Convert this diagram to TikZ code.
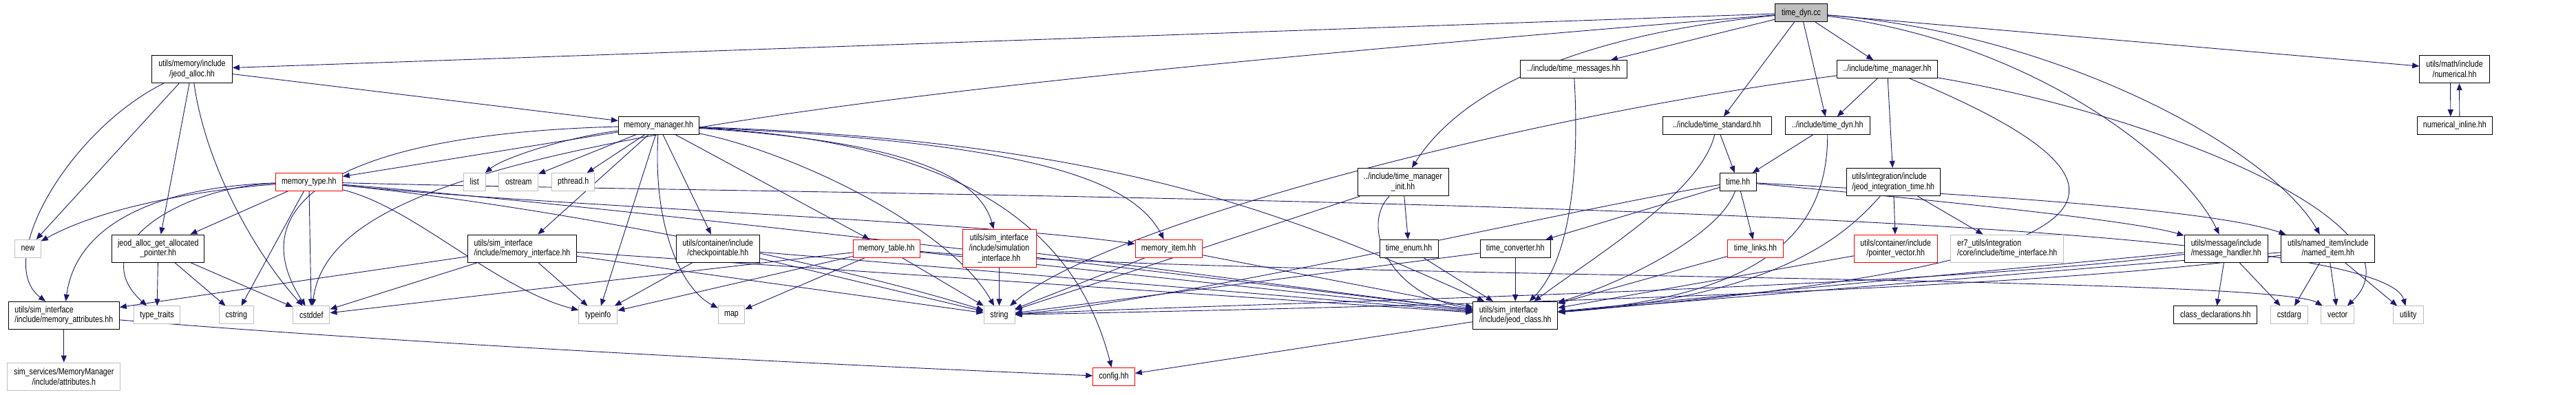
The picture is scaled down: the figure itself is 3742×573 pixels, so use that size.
\documentclass[tikz,border=0pt]{standalone}
\usepackage{fontspec}
\setmainfont{Liberation Sans}[FakeStretch=0.82]
\usetikzlibrary{arrows.meta}
\pgfdeclarelayer{bg}
\pgfsetlayers{bg,main}
\definecolor{edgec}{HTML}{191970}
\definecolor{lgray}{HTML}{BFBFBF}
\definecolor{rootfill}{HTML}{BFBFBF}
\tikzset{
  base/.style={rectangle, fill=white, line width=1pt, inner sep=0pt, font=\fontsize{13}{14.6}\selectfont, align=center},
  nb/.style={base, draw=black},
  ng/.style={base, draw=lgray},
  nr/.style={base, draw=red},
  nroot/.style={base, draw=black, fill=rootfill},
  sz/.style 2 args={minimum width=#1pt, minimum height=#2pt},
  e/.style={draw=edgec, line width=0.9pt, -{Triangle[length=10pt,width=8pt]}},
}
\begin{document}
\begin{tikzpicture}[x=1pt,y=-1pt]
\useasboundingbox (0,0) rectangle (3742,573);
% nodes
\node[nroot, sz={76.4}{26}] (TD) at (2616.5,18.7) {time\_dyn.cc};
\node[nb, sz={116.6}{40.4}] (JA) at (279,100.5) {utils/memory/include\\/jeod\_alloc.hh};
\node[nb, sz={116.7}{25.6}] (MM) at (956.7,182.5) {memory\_manager.hh};
\node[nr, sz={97}{25.4}] (MT) at (448.8,264.3) {memory\_type.hh};
\node[ng, sz={31.7}{25.4}] (list) at (689.2,264.3) {list};
\node[ng, sz={56.7}{25.4}] (ostream) at (753.3,264.3) {ostream};
\node[ng, sz={62}{25.4}] (pthread) at (832.7,264.3) {pthread.h};
\node[ng, sz={37.6}{25.6}] (new) at (40.5,361.2) {new};
\node[nb, sz={133.7}{40.3}] (JAG) at (229.8,361.2) {jeod\_alloc\_get\_allocated\\\_pointer.hh};
\node[nb, align=left, sz={158.4}{40.3}] (MI) at (758.5,361.2) {utils/sim\_interface\\/include/memory\_interface.hh};
\node[nb, sz={121}{40.3}] (CP) at (1042.8,361.2) {utils/container/include\\/checkpointable.hh};
\node[nr, sz={97}{25.6}] (MTab) at (1287.7,361.2) {memory\_table.hh};
\node[nr, sz={107}{55.4}] (SI) at (1451.5,361) {utils/sim\_interface\\/include/simulation\\\_interface.hh};
\node[nr, sz={97}{25.6}] (MItem) at (1697.5,361.2) {memory\_item.hh};
\node[nb, align=left, sz={161}{39.7}] (memattr) at (92.8,458.2) {utils/sim\_interface\\/include/memory\_attributes.hh};
\node[ng, sz={67.4}{25.7}] (typetraits) at (228,457.8) {type\_traits};
\node[ng, sz={50}{25.7}] (cstring) at (343.3,457.8) {cstring};
\node[ng, sz={53.3}{25.7}] (cstddef) at (452.3,457.8) {cstddef};
\node[ng, sz={56}{25.7}] (typeinfo) at (868.7,457.8) {typeinfo};
\node[ng, sz={38.4}{25.7}] (map) at (1062.5,457.8) {map};
\node[ng, sz={45}{25.7}] (string) at (1451.5,457.8) {string};
\node[ng, sz={164.3}{40.3}] (attrs) at (92.8,547.2) {sim\_services/MemoryManager\\/include/attributes.h};
\node[nr, sz={60.6}{25.7}] (config) at (1618,547.2) {config.hh};
\node[nb, sz={154.6}{25.6}] (TMsg) at (2286,100.5) {../include/time\_messages.hh};
\node[nb, sz={158}{25.6}] (TS) at (2494,182.5) {../include/time\_standard.hh};
\node[nb, sz={122.7}{25.6}] (TDH) at (2654.7,182.5) {../include/time\_dyn.hh};
\node[nb, sz={145.6}{25.6}] (TM) at (2741.5,100.5) {../include/time\_manager.hh};
\node[nb, sz={132}{40.4}] (TMI) at (2038,264.5) {../include/time\_manager\\\_init.hh};
\node[nb, sz={53}{25.4}] (time) at (2524.8,264.3) {time.hh};
\node[nb, align=left, sz={136}{40.4}] (JIT) at (2750.3,264.5) {utils/integration/include\\/jeod\_integration\_time.hh};
\node[nb, sz={85}{25.6}] (timeenum) at (2046.5,361.2) {time\_enum.hh};
\node[nb, sz={102.3}{25.6}] (TC) at (2201.2,361.2) {time\_converter.hh};
\node[nr, sz={80.6}{25.6}] (timelinks) at (2550,361.2) {time\_links.hh};
\node[nr, sz={120.7}{40.3}] (PV) at (2753.7,361.2) {utils/container/include\\/pointer\_vector.hh};
\node[ng, align=left, sz={163.7}{40.3}] (TI) at (2915.8,361.2) {er7\_utils/integration\\/core/include/time\_interface.hh};
\node[nb, align=left, sz={123}{39.7}] (JC) at (2201.2,458.2) {utils/sim\_interface\\/include/jeod\_class.hh};
\node[nb, sz={101.6}{40.4}] (NUM) at (3565.5,100.5) {utils/math/include\\/numerical.hh};
\node[nb, sz={109}{25.6}] (NUMI) at (3565.8,182.5) {numerical\_inline.hh};
\node[nb, sz={121.3}{40.3}] (MH) at (3233.7,361.2) {utils/message/include\\/message\_handler.hh};
\node[nb, sz={136.3}{40.3}] (NI) at (3381.8,361.2) {utils/named\_item/include\\/named\_item.hh};
\node[nb, sz={121.3}{25.7}] (CD) at (3218.3,457.8) {class\_declarations.hh};
\node[ng, sz={53.7}{25.7}] (cstdarg) at (3325.2,457.8) {cstdarg};
\node[ng, sz={48}{25.7}] (vector) at (3395.7,457.8) {vector};
\node[ng, sz={43.7}{25.7}] (utility) at (3498.2,457.8) {utility};
\begin{pgfonlayer}{bg}
\fill[white] (0,0) rectangle (3742,573);
% time_dyn.cc
\draw[e] (TD) -- (JA);
\draw[e] (TD) .. controls (1000,150) and (480,230) .. (cstddef);
\draw[e] (TD) -- (TMsg);
\draw[e] (TD) .. controls (2250,55) and (2110,150) .. (TMI);
\draw[e] (TD) -- (TS);
\draw[e] (TD) -- (TDH);
\draw[e] (TD) -- (TM);
\draw[e] (TD) -- (NUM);
\draw[e] (TD) .. controls (2950,60) and (3170,230) .. (MH);
\draw[e] (TD) .. controls (3000,50) and (3300,220) .. (NI);
% jeod_alloc
\draw[e] (JA) -- (MM);
\draw[e] (JA) -- (new);
\draw[e] (JA) .. controls (100,190) and (-10,380) .. (memattr);
\draw[e] (JA) -- (JAG);
\draw[e] (JA) .. controls (300,250) and (380,380) .. (cstddef);
% memory_manager
\draw[e] (MM) -- (MT);
\draw[e] (MM) .. controls (820,200) and (730,230) .. (list);
\draw[e] (MM) -- (ostream);
\draw[e] (MM) -- (pthread);
\draw[e] (MM) -- (MI);
\draw[e] (MM) -- (typeinfo);
\draw[e] (MM) .. controls (948,330) and (990,420) .. (map);
\draw[e] (MM) -- (CP);
\draw[e] (MM) -- (MTab);
\draw[e] (MM) .. controls (1150,220) and (1380,330) .. (string);
\draw[e] (MM) .. controls (1300,205) and (1420,250) .. (SI);
\draw[e] (MM) .. controls (1380,205) and (1560,320) .. (config);
\draw[e] (MM) .. controls (1450,205) and (1640,250) .. (MItem);
\draw[e] (MM) .. controls (1600,205) and (1850,300) .. (JC);
\draw[e] (MM) .. controls (480,195) and (350,300) .. (cstddef);
% memory_type
\draw[e] (MT) .. controls (300,275) and (150,300) .. (new);
\draw[e] (MT) .. controls (260,272) and (120,360) .. (typetraits);
\draw[e] (MT) .. controls (220,272) and (110,330) .. (memattr);
\draw[e] (MT) -- (JAG);
\draw[e] (MT) -- (cstring);
\draw[e] (MT) -- (cstddef);
\draw[e] (MT) .. controls (600,300) and (720,420) .. (typeinfo);
\draw[e] (MT) .. controls (800,300) and (1400,320) .. (MItem);
\draw[e] (MT) .. controls (800,300) and (1200,380) .. (string);
\draw[e] (MT) .. controls (900,300) and (1900,420) .. (JC);
\draw[e] (MT) .. controls (1200,285) and (3450,290) .. (utility);
% memory_interface
\draw[e] (MI) -- (memattr);
\draw[e] (MI) -- (cstddef);
\draw[e] (MI) -- (typeinfo);
\draw[e] (MI) -- (string);
\draw[e] (MI) -- (JC);
% checkpointable
\draw[e] (CP) -- (typeinfo);
\draw[e] (CP) -- (string);
\draw[e] (CP) -- (JC);
% memory_table
\draw[e] (MTab) -- (map);
\draw[e] (MTab) -- (typeinfo);
\draw[e] (MTab) -- (cstddef);
\draw[e] (MTab) -- (string);
\draw[e] (MTab) -- (JC);
\draw[e] (MTab) .. controls (1800,405) and (3300,400) .. (vector);
% simulation_interface, memory_item
\draw[e] (SI) -- (string);
\draw[e] (SI) -- (JC);
\draw[e] (MItem) -- (string);
\draw[e] (MItem) -- (JC);
% jeod_alloc_get_allocated_pointer
\draw[e] (JAG) -- (typetraits);
\draw[e] (JAG) -- (cstring);
\draw[e] (JAG) -- (cstddef);
% memory_attributes
\draw[e] (memattr) -- (attrs);
\draw[e] (memattr) .. controls (600,500) and (1200,530) .. (config);
% jeod_class
\draw[e] (JC) -- (config);
% time files
\draw[e] (TMsg) .. controls (2295,250) and (2280,380) .. (JC);
\draw[e] (TMI) -- (timeenum);
\draw[e] (TMI) .. controls (1975,330) and (2020,430) .. (JC);
\draw[e] (TMI) -- (string);
\draw[e] (timeenum) -- (JC);
\draw[e] (TS) -- (time);
\draw[e] (TS) .. controls (2470,280) and (2320,370) .. (JC);
\draw[e] (TDH) -- (time);
\draw[e] (TDH) .. controls (2655,340) and (2560,430) .. (JC);
\draw[e] (TM) -- (TDH);
\draw[e] (TM) -- (JIT);
\draw[e] (TM) .. controls (2200,170) and (1600,330) .. (string);
\draw[e] (TM) .. controls (3150,170) and (3530,330) .. (vector);
\draw[e] (TM) .. controls (3100,250) and (3200,380) .. (JC);
\draw[e] (time) -- (TC);
\draw[e] (time) -- (timelinks);
\draw[e] (time) .. controls (2500,340) and (2360,410) .. (JC);
\draw[e] (time) .. controls (2300,300) and (1700,440) .. (string);
\draw[e] (time) .. controls (2800,290) and (3100,320) .. (MH);
\draw[e] (time) .. controls (2800,280) and (3200,300) .. (NI);
\draw[e] (TC) -- (JC);
\draw[e] (TC) -- (string);
\draw[e] (timelinks) -- (JC);
\draw[e] (JIT) -- (PV);
\draw[e] (JIT) -- (TI);
\draw[e] (JIT) .. controls (2690,330) and (2600,430) .. (JC);
\draw[e] (PV) -- (JC);
% message_handler, named_item
\draw[e] (MH) -- (CD);
\draw[e] (MH) -- (cstdarg);
\draw[e] (MH) -- (JC);
\draw[e] (MH) .. controls (2800,420) and (1800,440) .. (string);
\draw[e] (NI) -- (cstdarg);
\draw[e] (NI) -- (vector);
\draw[e] (NI) -- (utility);
\draw[e] (NI) -- (JC);
\draw[e] (NI) .. controls (2900,430) and (1800,450) .. (string);
% numerical
\draw[e] ([xshift=-6pt]NUM.south) -- ([xshift=-6pt]NUMI.north);
\draw[e] ([xshift=7pt]NUMI.north) -- ([xshift=7pt]NUM.south);
\end{pgfonlayer}
\end{tikzpicture}
\end{document}
